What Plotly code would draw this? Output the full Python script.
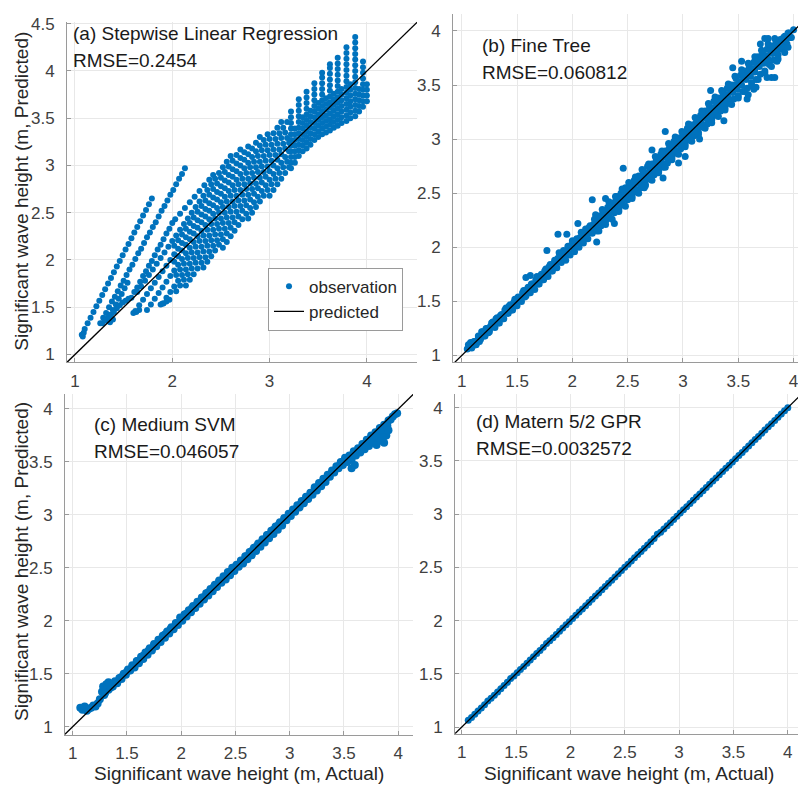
import plotly.graph_objects as go

FONT = "Liberation Sans, Arial, Helvetica, sans-serif"
BLUE = "#0072BD"
W, H = 798, 789

# ---------------- data ----------------
TICKS_HALF = [1, 1.5, 2, 2.5, 3, 3.5, 4]
TICKS_A_X = [1, 2, 3, 4]
TICKS_A_Y = [1, 1.5, 2, 2.5, 3, 3.5, 4, 4.5]

# (a) Stepwise Linear Regression: slanted stripes (actual, predicted)
A_STRIPES = [
    (1.07,1.21),(1.08,1.19),(1.09,1.23),(1.10,1.27),(1.13,1.33),(1.16,1.39),(1.19,1.45),(1.22,1.51),
    (1.25,1.57),(1.28,1.63),(1.31,1.69),(1.34,1.75),(1.37,1.81),(1.40,1.87),(1.43,1.93),(1.46,1.99),
    (1.49,2.05),(1.52,2.11),(1.55,2.17),(1.58,2.23),(1.61,2.29),(1.64,2.35),(1.67,2.41),(1.70,2.47),
    (1.73,2.53),(1.76,2.59),(1.79,2.65),
    (1.26,1.33),(1.29,1.39),(1.32,1.44),(1.35,1.50),(1.38,1.56),(1.41,1.61),(1.44,1.67),(1.47,1.73),
    (1.50,1.78),(1.53,1.84),(1.56,1.90),(1.59,1.95),(1.62,2.01),(1.65,2.07),(1.68,2.12),(1.71,2.18),
    (1.74,2.24),(1.77,2.29),(1.80,2.35),(1.83,2.40),(1.86,2.46),(1.89,2.52),(1.92,2.57),(1.95,2.63),
    (1.98,2.69),(2.01,2.74),(2.04,2.80),(2.07,2.86),(2.10,2.91),(2.13,2.97),
    (1.33,1.36),(1.36,1.42),(1.39,1.47),(1.42,1.53),(1.45,1.59),(1.48,1.64),(1.51,1.70),(1.54,1.76),
    (1.58,1.60),(1.61,1.66),(1.64,1.71),(1.67,1.77),(1.70,1.83),(1.73,1.88),(1.76,1.94),(1.79,1.99),
    (1.82,2.05),(1.85,2.11),(1.88,2.16),(1.91,2.22),(1.94,2.28),(1.97,2.33),(2.00,2.39),(2.03,2.43),
    (2.08,2.49),(2.13,2.55),(2.18,2.61),(2.23,2.67),(2.28,2.73),(2.33,2.79),(2.38,2.85),(2.42,2.90),
    (1.28,1.33),(1.31,1.36),(1.34,1.39),(1.37,1.42),(1.40,1.45),(1.43,1.49),(1.46,1.52),(1.49,1.55),
    (1.52,1.57),(1.55,1.59),(1.36,1.34),(1.39,1.37),
    (1.60,1.44),(1.63,1.45),(1.66,1.47),(1.88,1.53),(1.91,1.54),(1.94,1.56),(1.97,1.58),
    (1.64,1.66),(1.68,1.72),(1.72,1.78),(1.76,1.84),(1.80,1.90),(1.84,1.96),(1.88,2.02),(1.92,2.08),
    (1.96,2.14),(2.00,2.20),(2.04,2.26),(2.08,2.32),(2.12,2.38),(2.16,2.44),(2.20,2.50),(2.24,2.56),
    (2.28,2.62),(2.32,2.68),(2.36,2.74),(2.40,2.80),(2.44,2.86),(2.48,2.92),(2.52,2.98),(2.56,3.04),
    (2.60,3.10),
    (1.62,1.46),(1.66,1.52),(1.70,1.58),(1.74,1.64),(1.78,1.70),(1.82,1.76),(1.86,1.82),(1.90,1.88),
    (1.94,1.94),(1.98,2.00),(2.02,2.06),(2.06,2.12),(2.10,2.18),(2.14,2.24),(2.18,2.30),(2.22,2.36),
    (2.26,2.42),(2.30,2.48),(2.34,2.54),(2.38,2.60),(2.42,2.66),(2.46,2.72),(2.50,2.78),(2.54,2.84),
    (2.58,2.90),(2.62,2.96),(2.66,3.02),(2.70,3.08),(2.74,3.14),(2.78,3.20),
    (1.74,1.47),(1.78,1.53),(1.82,1.59),(1.86,1.65),(1.90,1.71),(1.94,1.77),(1.98,1.83),(2.02,1.89),
    (2.06,1.95),(2.10,2.01),(2.14,2.07),(2.18,2.13),(2.22,2.19),(2.26,2.25),(2.30,2.31),(2.34,2.37),
    (2.38,2.43),(2.42,2.49),(2.46,2.55),(2.50,2.61),(2.54,2.67),(2.58,2.73),(2.62,2.79),(2.66,2.85),
    (2.70,2.91),(2.74,2.97),(2.78,3.03),(2.82,3.09),(2.86,3.15),(2.90,3.21),(2.94,3.27),(2.98,3.33),
    (1.90,1.54),(1.94,1.60),(1.98,1.66),(2.02,1.72),(2.06,1.78),(2.10,1.84),(2.14,1.90),(2.18,1.96),
    (2.22,2.02),(2.26,2.08),(2.30,2.14),(2.34,2.20),(2.38,2.26),(2.42,2.32),(2.46,2.38),(2.50,2.44),
    (2.54,2.50),(2.58,2.56),(2.62,2.62),(2.66,2.68),(2.70,2.74),(2.74,2.80),(2.78,2.86),(2.82,2.92),
    (2.86,2.98),(2.90,3.04),(2.94,3.10),(2.98,3.16),(3.02,3.22),(3.06,3.28),(3.10,3.34),(3.14,3.40),
    (3.18,3.46),
    (2.14,1.73),(2.18,1.79),(2.22,1.85),(2.26,1.91),(2.30,1.97),(2.34,2.03),(2.38,2.09),(2.42,2.15),
    (2.46,2.21),(2.50,2.27),(2.54,2.33),(2.58,2.39),(2.62,2.45),(2.66,2.51),(2.70,2.57),(2.74,2.63),
    (2.78,2.69),(2.82,2.75),(2.86,2.81),(2.90,2.87),(2.94,2.93),(2.98,2.99),(3.02,3.05),(3.06,3.11),
    (3.10,3.17),(3.14,3.23),(3.18,3.29),
    (2.52,2.13),(2.56,2.19),(2.60,2.25),(2.64,2.31),(2.68,2.37),(2.72,2.43),(2.76,2.49),(2.80,2.55),
    (2.84,2.61),(2.88,2.67),(2.92,2.73),(2.96,2.79),(3.00,2.85),(3.04,2.91),(3.08,2.97),(3.12,3.03),
    (3.16,3.09),(3.20,3.15),
    (3.00,2.68),(3.04,2.74),(3.08,2.80),(3.12,2.86),(3.16,2.92),(3.20,2.98),
    # denser core between the stripes
    (2.02,2.15),(2.06,2.21),(2.10,2.27),(2.14,2.33),(2.18,2.39),(2.22,2.45),(2.26,2.51),(2.30,2.57),
    (2.34,2.63),(2.38,2.69),(2.42,2.75),(2.46,2.81),(2.50,2.87),(2.54,2.93),(2.58,2.99),(2.62,3.05),
    (2.66,3.11),(2.70,3.17),
    (2.02,1.98),(2.06,2.04),(2.10,2.10),(2.14,2.16),(2.18,2.22),(2.22,2.28),(2.26,2.34),(2.30,2.40),
    (2.34,2.46),(2.38,2.52),(2.42,2.58),(2.46,2.64),(2.50,2.70),(2.54,2.76),(2.58,2.82),(2.62,2.88),
    (2.66,2.94),(2.70,3.00),(2.74,3.06),(2.78,3.12),(2.82,3.18),(2.86,3.24),(2.90,3.30),
    (2.04,1.84),(2.08,1.90),(2.12,1.96),(2.16,2.02),(2.20,2.08),(2.24,2.14),(2.28,2.20),(2.32,2.26),
    (2.36,2.32),(2.40,2.38),(2.44,2.44),(2.48,2.50),(2.52,2.56),(2.56,2.62),(2.60,2.68),(2.64,2.74),
    (2.68,2.80),(2.72,2.86),(2.76,2.92),(2.80,2.98),(2.84,3.04),(2.88,3.10),(2.92,3.16),(2.96,3.22),
    (3.00,3.28),(3.04,3.34),(3.08,3.40),(3.12,3.46),
    (2.04,1.67),(2.08,1.73),(2.12,1.79),(2.16,1.85),(2.20,1.91),(2.24,1.97),(2.28,2.03),(2.32,2.09),
    (2.36,2.15),(2.40,2.21),(2.44,2.27),(2.48,2.33),(2.52,2.39),(2.56,2.45),(2.60,2.51),(2.64,2.57),
    (2.68,2.63),(2.72,2.69),(2.76,2.75),(2.80,2.81),(2.84,2.87),(2.88,2.93),(2.92,2.99),(2.96,3.05),
    (3.00,3.11),(3.04,3.17),(3.08,3.23),(3.12,3.29),(3.16,3.35),
    (2.32,1.92),(2.36,1.98),(2.40,2.04),(2.44,2.10),(2.48,2.16),(2.52,2.22),(2.56,2.28),(2.60,2.34),
    (2.64,2.40),(2.68,2.46),(2.72,2.52),(2.76,2.58),(2.80,2.64),(2.84,2.70),(2.88,2.76),(2.92,2.82),
    (2.96,2.88),(3.00,2.94),(3.04,3.00),(3.08,3.06),(3.12,3.12),(3.16,3.18),(3.20,3.24),
    (2.78,2.44),(2.82,2.50),(2.86,2.56),(2.90,2.62),(2.94,2.68),(2.98,2.74),(3.02,2.80),(3.06,2.86),
    (3.10,2.92),(3.14,2.98),(3.18,3.04),
]
# (a) vertical columns at the upper right: actual value -> predicted values
A_COL_X = [3.22, 3.26, 3.30, 3.34, 3.38, 3.42, 3.46, 3.50, 3.54, 3.58, 3.62, 3.66,
           3.70, 3.74, 3.79, 3.83, 3.88, 3.92, 3.96, 4.00]
A_COL_Y = [
    [2.97,3.03,3.09,3.15,3.21,3.27,3.33,3.39,3.45,3.51,3.57],
    [3.03,3.09,3.15,3.21,3.27,3.33,3.39],
    [3.10,3.16,3.22,3.28,3.34,3.40,3.46,3.52,3.58,3.64,3.70],
    [3.15,3.21,3.27,3.33,3.39,3.45,3.51],
    [3.18,3.24,3.30,3.36,3.42,3.48,3.54,3.60,3.66,3.72,3.78],
    [3.22,3.28,3.34,3.40,3.46,3.52,3.58],
    [3.27,3.33,3.39,3.45,3.51,3.57,3.63,3.69,3.75,3.81,3.87],
    [3.30,3.36,3.42,3.48,3.54,3.60,3.66],
    [3.33,3.39,3.45,3.51,3.57,3.63,3.69,3.75,3.81,3.87,3.93,3.98],
    [3.35,3.41,3.47,3.53,3.59,3.65,3.71],
    [3.37,3.43,3.49,3.55,3.61,3.67,3.73,3.79,3.85,3.91,3.97,4.03,4.07],
    [3.40,3.46,3.52,3.58,3.64,3.70,3.76],
    [3.42,3.48,3.54,3.60,3.66,3.72,3.78,3.84,3.90,3.96,4.02,4.08,4.14],
    [3.45,3.51,3.57,3.63,3.69,3.75,3.81],
    [3.47,3.53,3.59,3.65,3.71,3.77,3.83,3.89,3.95,4.01,4.07,4.13,4.19,4.25],
    [3.50,3.56,3.62,3.68,3.74,3.80,3.86],
    [3.52,3.58,3.64,3.70,3.76,3.82,3.88,3.94,4.00,4.06,4.12,4.18,4.24,4.30,4.36],
    [3.57,3.63,3.69,3.75,3.81],
    [3.62,3.68,3.74,3.80,3.86,3.92,3.98,4.04,4.10],
    [3.68,3.74,3.80,3.86],
]

# (b) Fine Tree (actual, predicted)
B_POINTS = [
    (1.06,1.10),(1.08,1.12),(1.10,1.09),(1.12,1.13),(1.14,1.12),(1.16,1.13),(1.18,1.22),(1.20,1.18),
    (1.22,1.25),(1.24,1.21),(1.26,1.27),(1.28,1.31),(1.30,1.26),(1.32,1.35),(1.34,1.30),(1.36,1.38),
    (1.38,1.34),(1.40,1.44),(1.42,1.39),(1.44,1.47),(1.46,1.42),(1.48,1.52),(1.50,1.46),(1.52,1.53),
    (1.54,1.50),(1.56,1.60),(1.58,1.55),(1.60,1.63),(1.62,1.58),(1.64,1.66),(1.66,1.61),(1.68,1.73),
    (1.70,1.66),(1.72,1.75),(1.74,1.70),(1.76,1.80),(1.78,1.73),(1.80,1.84),(1.82,1.78),(1.84,1.88),
    (1.86,1.81),(1.88,1.95),(1.90,1.86),(1.92,1.97),(1.94,1.88),(1.96,2.01),(1.98,1.93),(2.00,2.06),
    (2.02,1.96),(2.04,2.08),(2.06,2.00),(2.08,2.14),(2.10,2.04),(2.12,2.17),(2.14,2.08),(2.16,2.20),
    (2.18,2.13),(2.20,2.26),(2.22,2.15),(2.24,2.29),(2.26,2.20),(2.28,2.33),(2.30,2.24),(2.32,2.37),
    (2.34,2.27),(2.36,2.41),(2.38,2.32),(2.40,2.47),(2.42,2.35),(2.44,2.50),(2.46,2.39),(2.48,2.55),
    (2.50,2.44),(2.52,2.59),(2.54,2.47),(2.56,2.62),(2.58,2.51),(2.60,2.66),(2.62,2.55),(2.64,2.70),
    (2.66,2.58),(2.68,2.75),(2.70,2.63),(2.72,2.77),(2.74,2.67),(2.76,2.81),(2.78,2.70),(2.80,2.86),
    (2.82,2.74),(2.84,2.89),(2.86,2.78),(2.88,2.93),(2.90,2.83),(2.92,2.98),(2.94,2.87),(2.96,3.01),
    (2.98,2.91),(3.00,3.06),(3.02,2.95),(3.04,3.10),(3.06,2.99),(3.08,3.13),(3.10,3.03),(3.12,3.19),
    (3.14,3.06),(3.16,3.22),(3.18,3.11),(3.20,3.26),(3.22,3.14),(3.24,3.30),(3.26,3.18),(3.28,3.35),
    (3.30,3.22),(3.32,3.38),(3.34,3.26),(3.36,3.43),(3.38,3.29),(3.40,3.47),(3.42,3.33),(3.44,3.50),
    (3.46,3.37),(3.48,3.56),(3.50,3.40),(3.52,3.59),(3.54,3.44),(3.56,3.63),(3.58,3.47),(3.60,3.67),
    (3.62,3.52),(3.64,3.71),(3.66,3.55),(3.68,3.76),(3.70,3.60),(3.72,3.79),(3.74,3.63),(3.76,3.83),
    (3.78,3.69),(3.80,3.86),(3.82,3.73),(3.84,3.89),(3.86,3.78),(3.88,3.92),(3.90,3.83),(3.92,3.95),
    (3.94,3.88),(3.96,3.98),(3.98,3.94),(4.00,4.01),
    (1.05,1.06),(1.10,1.10),(1.15,1.16),(1.20,1.20),(1.25,1.24),(1.30,1.31),(1.35,1.35),(1.40,1.40),
    (1.45,1.46),(1.50,1.50),(1.55,1.55),(1.60,1.61),(1.65,1.65),(1.70,1.70),(1.75,1.76),(1.80,1.80),
    (1.85,1.85),(1.90,1.91),(1.95,1.95),(2.00,2.00),(2.05,2.06),(2.10,2.10),(2.15,2.15),(2.20,2.21),
    (2.25,2.25),(2.30,2.30),(2.35,2.36),(2.40,2.40),(2.45,2.45),(2.50,2.51),(2.55,2.55),(2.60,2.60),
    (2.65,2.66),(2.70,2.70),(2.75,2.75),(2.80,2.81),(2.85,2.85),(2.90,2.90),(2.95,2.96),(3.00,3.00),
    (3.05,3.05),(3.10,3.11),(3.15,3.15),(3.20,3.20),(3.25,3.26),(3.30,3.30),(3.35,3.35),(3.40,3.41),
    (3.45,3.45),(3.50,3.50),(3.55,3.56),(3.60,3.60),(3.65,3.65),(3.70,3.71),(3.75,3.75),(3.80,3.80),
    (3.85,3.86),(3.90,3.90),(3.95,3.95),
    (1.07,1.10),(1.11,1.13),(1.15,1.18),(1.19,1.22),(1.23,1.25),(1.27,1.30),(1.31,1.34),(1.35,1.37),
    (1.39,1.42),(1.43,1.46),(1.47,1.49),(1.51,1.54),(1.55,1.58),(1.59,1.61),(1.63,1.66),(1.67,1.70),
    (1.71,1.73),(1.75,1.78),(1.79,1.82),(1.83,1.85),(1.87,1.90),(1.91,1.94),(1.95,1.97),(1.99,2.02),
    (2.03,2.06),(2.07,2.09),(2.11,2.14),(2.15,2.18),(2.19,2.21),(2.23,2.26),(2.27,2.30),(2.31,2.33),
    (2.35,2.38),(2.39,2.42),(2.43,2.45),(2.47,2.50),(2.51,2.54),(2.55,2.57),(2.59,2.62),(2.63,2.66),
    (2.67,2.69),(2.71,2.74),(2.75,2.78),(2.79,2.81),(2.83,2.86),(2.87,2.90),(2.91,2.93),(2.95,2.98),
    (2.99,3.02),(3.03,3.05),(3.07,3.10),(3.11,3.14),(3.15,3.17),(3.19,3.22),(3.23,3.26),(3.27,3.29),
    (3.31,3.34),(3.35,3.38),(3.39,3.41),(3.43,3.46),(3.47,3.50),(3.51,3.53),(3.55,3.58),(3.59,3.62),
    (3.63,3.65),(3.67,3.70),(3.71,3.74),(3.75,3.77),(3.79,3.82),(3.83,3.86),(3.87,3.89),(3.91,3.94),
    (3.95,3.98),
    (1.09,1.07),(1.13,1.10),(1.17,1.15),(1.21,1.18),(1.25,1.22),(1.29,1.27),(1.33,1.30),(1.37,1.34),
    (1.41,1.39),(1.45,1.42),(1.49,1.46),(1.53,1.51),(1.57,1.54),(1.61,1.58),(1.65,1.63),(1.69,1.66),
    (1.73,1.70),(1.77,1.75),(1.81,1.78),(1.85,1.82),(1.89,1.87),(1.93,1.90),(1.97,1.94),(2.01,1.99),
    (2.05,2.02),(2.09,2.06),(2.13,2.11),(2.17,2.14),(2.21,2.18),(2.25,2.23),(2.29,2.26),(2.33,2.30),
    (2.37,2.35),(2.41,2.38),(2.45,2.42),(2.49,2.47),(2.53,2.50),(2.57,2.54),(2.61,2.59),(2.65,2.62),
    (2.69,2.66),(2.73,2.71),(2.77,2.74),(2.81,2.78),(2.85,2.83),(2.89,2.86),(2.93,2.90),(2.97,2.95),
    (3.01,2.98),(3.05,3.02),(3.09,3.07),(3.13,3.10),(3.17,3.14),(3.21,3.19),(3.25,3.22),(3.29,3.26),
    (3.33,3.31),(3.37,3.34),(3.41,3.38),(3.45,3.43),(3.49,3.46),(3.53,3.50),(3.57,3.55),(3.61,3.58),
    (3.65,3.62),(3.69,3.67),(3.73,3.70),(3.77,3.74),(3.81,3.79),(3.85,3.82),(3.89,3.86),(3.93,3.91),
    (3.97,3.94),
    (2.21,2.30),(2.27,2.35),(2.33,2.42),(2.39,2.47),(2.45,2.54),(2.51,2.60),(2.57,2.65),(2.63,2.72),
    (2.69,2.77),(2.75,2.84),(2.81,2.89),(2.87,2.96),(2.93,3.02),(2.99,3.07),(3.05,3.14),(3.11,3.20),
    (3.17,3.26),(3.23,3.33),(3.29,3.39),(3.35,3.45),(3.41,3.51),(3.47,3.58),(3.53,3.64),(3.59,3.70),
    (3.65,3.76),(3.71,3.82),(3.77,3.88),(3.83,3.93),
    (2.24,2.15),(2.30,2.21),(2.36,2.26),(2.42,2.33),(2.48,2.38),(2.54,2.45),(2.60,2.50),(2.66,2.57),
    (2.72,2.62),(2.78,2.69),(2.84,2.74),(2.90,2.81),(2.96,2.86),(3.02,2.93),(3.08,2.98),(3.14,3.04),
    (3.20,3.10),(3.26,3.15),(3.32,3.21),(3.38,3.27),(3.44,3.32),(3.50,3.38),(3.56,3.44),(3.62,3.49),
    (3.68,3.55),(3.74,3.61),(3.80,3.67),(3.86,3.74),(3.92,3.80),
    (3.74,3.93),(3.77,3.93),(3.76,3.57),(3.59,3.41),(3.45,3.66),(3.37,3.17),(3.02,2.84),(2.84,3.07),
    (2.46,2.73),(2.82,2.64),(2.18,2.44),(2.22,2.05),(1.87,2.12),(1.77,1.97),(1.58,1.72),(1.62,1.74),
    (3.58,3.37),(3.64,3.46),(3.66,3.48),(3.85,3.72),(3.80,3.57),(3.83,3.57),(3.95,3.85),(2.65,2.55),
    (2.96,2.78),(3.15,3.00),(2.38,2.22),(2.30,2.45),(2.05,2.22),(1.95,2.12),(3.25,3.45),(3.53,3.72),
    (3.70,3.88),(2.72,2.90),
]

# (c) Medium SVM (actual, predicted)
C_POINTS = [
    (1.07,1.18),(1.09,1.16),(1.11,1.19),(1.13,1.15),(1.15,1.17),(1.17,1.18),(1.19,1.20),(1.21,1.19),
    (1.23,1.22),(1.25,1.26),(1.27,1.33),(1.29,1.30),(1.31,1.36),(1.33,1.35),(1.35,1.39),(1.37,1.38),
    (1.39,1.43),(1.41,1.41),(1.43,1.46),(1.45,1.45),(1.47,1.50),(1.49,1.49),(1.51,1.54),(1.53,1.53),
    (1.55,1.58),(1.57,1.56),(1.59,1.62),(1.61,1.60),(1.63,1.66),(1.65,1.64),(1.67,1.70),(1.69,1.68),
    (1.71,1.74),(1.73,1.72),(1.75,1.78),(1.77,1.76),(1.79,1.82),(1.81,1.80),(1.83,1.86),(1.85,1.84),
    (1.87,1.90),(1.89,1.88),(1.91,1.94),(1.93,1.92),(1.95,1.98),(1.97,1.96),(1.99,2.03),(2.01,2.00),
    (2.03,2.06),(2.05,2.04),(2.07,2.10),(2.09,2.08),(2.11,2.14),(2.13,2.12),(2.15,2.18),(2.17,2.16),
    (2.19,2.22),(2.21,2.20),(2.23,2.26),(2.25,2.24),(2.27,2.30),(2.29,2.28),(2.31,2.34),(2.33,2.32),
    (2.35,2.38),(2.37,2.36),(2.39,2.42),(2.41,2.39),(2.43,2.46),(2.45,2.43),(2.47,2.50),(2.49,2.47),
    (2.51,2.53),(2.53,2.51),(2.55,2.57),(2.57,2.54),(2.59,2.61),(2.61,2.58),(2.63,2.65),(2.65,2.62),
    (2.67,2.69),(2.69,2.66),(2.71,2.73),(2.73,2.70),(2.75,2.77),(2.77,2.74),(2.79,2.81),(2.81,2.78),
    (2.83,2.85),(2.85,2.82),(2.87,2.89),(2.89,2.86),(2.91,2.93),(2.93,2.90),(2.95,2.97),(2.97,2.95),
    (2.99,3.01),(3.01,2.99),(3.03,3.05),(3.05,3.03),(3.07,3.09),(3.09,3.07),(3.11,3.13),(3.13,3.11),
    (3.15,3.17),(3.17,3.15),(3.19,3.21),(3.21,3.19),(3.23,3.26),(3.25,3.23),(3.27,3.30),(3.29,3.27),
    (3.31,3.34),(3.33,3.31),(3.35,3.38),(3.37,3.36),(3.39,3.42),(3.41,3.40),(3.43,3.46),(3.45,3.44),
    (3.47,3.50),(3.49,3.47),(3.51,3.54),(3.53,3.50),(3.55,3.56),(3.57,3.52),(3.59,3.60),(3.61,3.56),
    (3.63,3.63),(3.65,3.59),(3.67,3.67),(3.69,3.62),(3.71,3.71),(3.73,3.65),(3.75,3.75),(3.77,3.68),
    (3.79,3.78),(3.81,3.72),(3.83,3.82),(3.85,3.75),(3.87,3.85),(3.89,3.80),(3.91,3.89),(3.93,3.90),
    (3.95,3.93),(3.97,3.95),(3.99,3.96),
    (1.30,1.32),(1.35,1.37),(1.40,1.42),(1.45,1.47),(1.50,1.52),(1.55,1.57),(1.60,1.62),(1.65,1.67),
    (1.70,1.72),(1.75,1.77),(1.80,1.82),(1.85,1.87),(1.90,1.92),(1.95,1.97),(2.00,2.02),(2.05,2.07),
    (2.10,2.12),(2.15,2.17),(2.20,2.22),(2.25,2.27),(2.30,2.32),(2.35,2.37),(2.40,2.41),(2.45,2.46),
    (2.50,2.51),(2.55,2.56),(2.60,2.61),(2.65,2.66),(2.70,2.71),(2.75,2.76),(2.80,2.81),(2.85,2.86),
    (2.90,2.91),(2.95,2.96),(3.00,3.00),(3.05,3.05),(3.10,3.10),(3.15,3.15),(3.20,3.21),(3.25,3.26),
    (3.30,3.31),(3.35,3.36),(3.40,3.41),(3.45,3.46),(3.50,3.51),(3.55,3.54),(3.60,3.58),(3.65,3.62),
    (3.70,3.66),(3.75,3.70),(3.80,3.74),(3.85,3.79),(3.90,3.84),
    (3.57,3.44),(3.60,3.47),(3.80,3.66),(3.84,3.70),(3.87,3.68),(3.89,3.75),(3.91,3.80),(3.86,3.73),
    (1.28,1.38),(1.31,1.40),(1.33,1.42),
]

# (d) Matern 5/2 GPR
D_ACTUAL = [1.06,1.09,1.12,1.15,1.18,1.21,1.24,1.27,1.30,1.33,1.36,1.39,1.42,1.45,1.48,1.51,1.54,
            1.57,1.60,1.63,1.66,1.69,1.72,1.75,1.78,1.81,1.84,1.87,1.90,1.93,1.96,1.99,2.02,2.05,
            2.08,2.11,2.14,2.17,2.20,2.23,2.26,2.29,2.32,2.35,2.38,2.41,2.44,2.47,2.50,2.53,2.56,
            2.59,2.62,2.65,2.68,2.71,2.74,2.77,2.80,2.83,2.86,2.89,2.92,2.95,2.98,3.01,3.04,3.07,
            3.10,3.13,3.16,3.19,3.22,3.25,3.28,3.31,3.34,3.37,3.40,3.43,3.46,3.49,3.52,3.55,3.58,
            3.61,3.64,3.67,3.70,3.73,3.76,3.79,3.82,3.85,3.88,3.91,3.94,3.97,4.00]
D_PRED = [1.065,1.09,1.12,1.15,1.18,1.21,1.245,1.27,1.30,1.33,1.36,1.39,1.42,1.455,1.48,1.51,1.54,
          1.57,1.60,1.63,1.66,1.69,1.72,1.75,1.785,1.81,1.84,1.87,1.90,1.93,1.96,1.99,2.02,2.05,
          2.08,2.11,2.14,2.17,2.20,2.23,2.26,2.29,2.32,2.35,2.38,2.41,2.44,2.47,2.50,2.53,2.56,
          2.59,2.62,2.65,2.68,2.71,2.74,2.77,2.81,2.83,2.86,2.89,2.92,2.95,2.98,3.01,3.04,3.07,
          3.10,3.13,3.16,3.19,3.22,3.25,3.28,3.31,3.34,3.37,3.40,3.43,3.46,3.49,3.52,3.55,3.58,
          3.61,3.64,3.67,3.70,3.73,3.76,3.79,3.82,3.85,3.88,3.91,3.94,3.97,4.00]

TITLES = ["(a) Stepwise Linear Regression", "(b) Fine Tree", "(c) Medium SVM", "(d) Matern 5/2 GPR"]
RMSE = ["RMSE=0.2454", "RMSE=0.060812", "RMSE=0.046057", "RMSE=0.0032572"]
X_LABEL = "Significant wave height (m, Actual)"
Y_LABEL = "Significant wave height (m, Predicted)"

# ---------------- assemble ----------------
ax_x, ax_y = map(list, zip(*A_STRIPES))
for cxv, cys in zip(A_COL_X, A_COL_Y):
    ax_x += [cxv] * len(cys)
    ax_y += cys
bx, by = map(list, zip(*B_POINTS))
cx_, cy_ = map(list, zip(*C_POINTS))

# layout geometry (pixels in the 798x789 picture)
panels = [
    dict(ax="", xpx=(67, 417), ypx=(15, 360), xr=(0.918, 4.515), yr=(0.916, 4.52),
         xt=TICKS_A_X, yt=TICKS_A_Y, x=ax_x, y=ax_y, ms=6, tpos=(71, 27, 54)),
    dict(ax="2", xpx=(453, 798), ypx=(7, 360), xr=(0.921, 4.04), yr=(0.936, 4.157),
         xt=TICKS_HALF, yt=TICKS_HALF, x=bx, y=by, ms=7, tpos=(480, 39, 66)),
    dict(ax="3", xpx=(65, 413), ypx=(392, 737), xr=(0.929, 4.136), yr=(0.925, 4.141),
         xt=TICKS_HALF, yt=TICKS_HALF, x=cx_, y=cy_, ms=8, tpos=(92, 423, 450)),
    dict(ax="4", xpx=(455, 798), ypx=(392, 736), xr=(0.938, 4.094), yr=(0.938, 4.128),
         xt=TICKS_HALF, yt=TICKS_HALF, x=D_ACTUAL, y=D_PRED, ms=7, tpos=(474, 420, 447)),
]

fig = go.Figure()
layout = dict(
    width=W, height=H, margin=dict(l=0, r=0, t=0, b=0),
    paper_bgcolor="white", plot_bgcolor="white",
    font=dict(family=FONT, color="#262626"),
    showlegend=True,
    legend=dict(x=268 / W, y=1 - 264 / H, xanchor="left", yanchor="top",
                bgcolor="white", bordercolor="#9a9a9a", borderwidth=1,
                font=dict(size=17, family=FONT, color="#262626"),
                itemwidth=30, tracegroupgap=0),
)
annotations = []
axis_common = dict(showgrid=True, gridcolor="#e8e8e8", gridwidth=1, zeroline=False,
                   showline=True, linecolor="#9a9a9a", linewidth=1, mirror=False,
                   ticks="inside", ticklen=4, tickcolor="#9a9a9a",
                   tickfont=dict(size=17, family=FONT, color="#404040"))

for i, p in enumerate(panels):
    xa = "x" + p["ax"]
    ya = "y" + p["ax"]
    fig.add_trace(go.Scatter(
        x=p["x"], y=p["y"], mode="markers", xaxis=xa, yaxis=ya,
        marker=dict(color=BLUE, size=p["ms"], line=dict(width=0)),
        name="observation", showlegend=(i == 0), hoverinfo="skip"))
    lo = min(p["xr"][0], p["yr"][0])
    hi = max(p["xr"][1], p["yr"][1])
    fig.add_trace(go.Scatter(
        x=[lo, hi], y=[lo, hi], mode="lines", xaxis=xa, yaxis=ya,
        line=dict(color="black", width=1.3),
        name="predicted", showlegend=(i == 0), hoverinfo="skip"))
    x0, x1 = p["xpx"]
    y0, y1 = p["ypx"]
    layout["xaxis" + p["ax"]] = dict(
        axis_common, domain=[x0 / W, x1 / W], range=list(p["xr"]),
        tickvals=p["xt"], anchor=ya, ticklabelstandoff=3, ticklabeloverflow="allow")
    layout["yaxis" + p["ax"]] = dict(
        axis_common, domain=[1 - y1 / H, 1 - y0 / H], range=list(p["yr"]),
        tickvals=p["yt"], anchor=xa, ticklabelstandoff=8, ticklabeloverflow="allow")
    tx, ty1, ty2 = p["tpos"]
    annotations.append(dict(text=TITLES[i], x=tx / W, y=1 - ty1 / H, xref="paper", yref="paper",
                            xanchor="left", yanchor="middle", showarrow=False,
                            font=dict(size=19, family=FONT, color="#1a1a1a")))
    annotations.append(dict(text=RMSE[i], x=tx / W, y=1 - ty2 / H, xref="paper", yref="paper",
                            xanchor="left", yanchor="middle", showarrow=False,
                            font=dict(size=19, family=FONT, color="#1a1a1a")))

for cxp in (239, 629):
    annotations.append(dict(text=X_LABEL, x=cxp / W, y=1 - 776 / H, xref="paper", yref="paper",
                            xanchor="center", yanchor="middle", showarrow=False,
                            font=dict(size=19, family=FONT, color="#262626")))
for cyp in (187, 562):
    annotations.append(dict(text=Y_LABEL, x=22 / W, y=1 - cyp / H, xref="paper", yref="paper",
                            xanchor="center", yanchor="middle", showarrow=False, textangle=-90,
                            font=dict(size=19, family=FONT, color="#262626")))

layout["annotations"] = annotations
fig.update_layout(**layout)
fig.write_html("out.html", config=dict(displayModeBar=False),
               post_script="document.body.style.margin='0px';document.body.style.overflow='hidden';")
